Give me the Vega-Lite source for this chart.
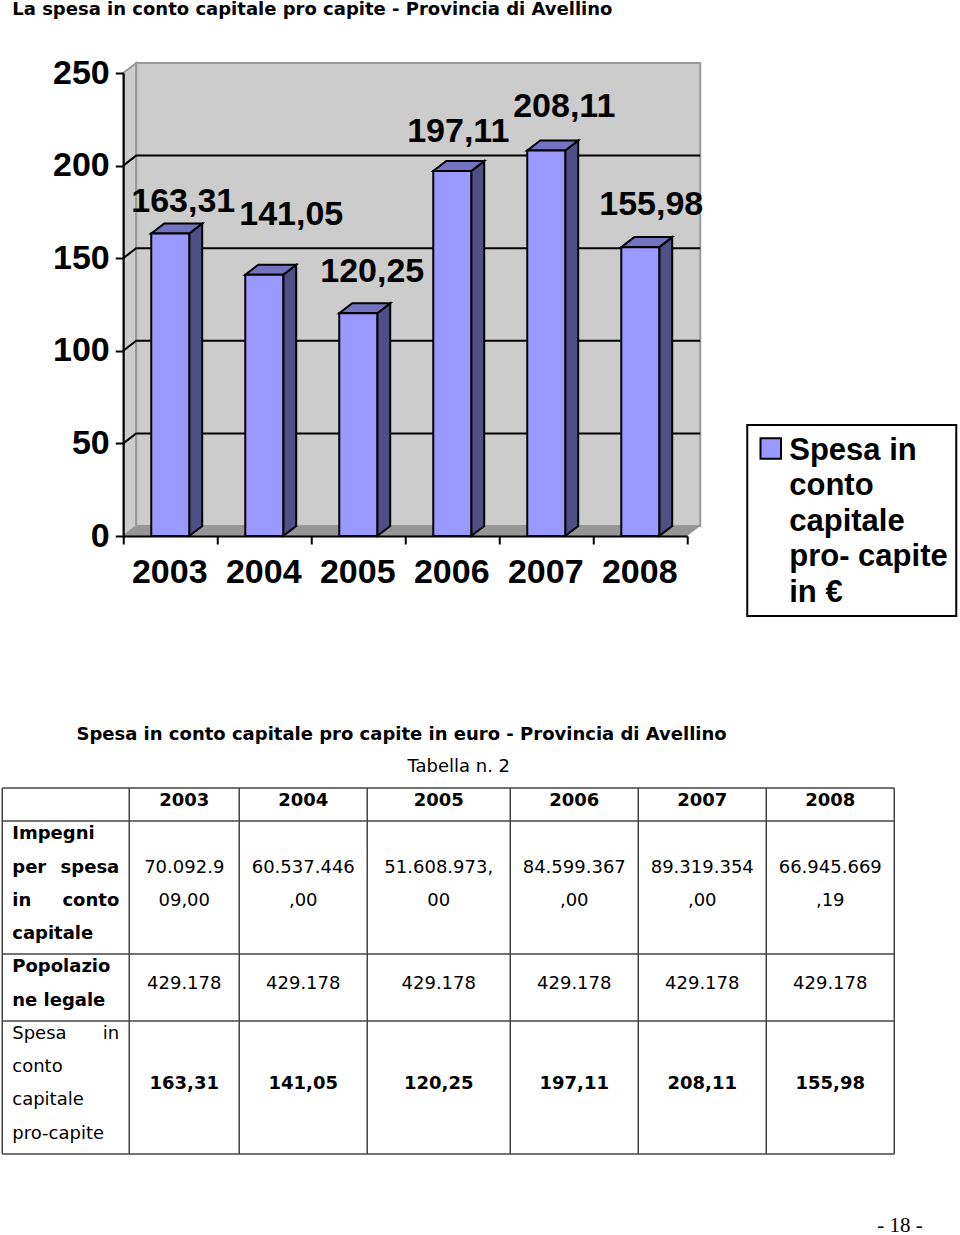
{
"$schema":"https://vega.github.io/schema/vega-lite/v6.json",
"background":"white",
"padding":{"left":1.25,"top":1,"right":0,"bottom":0},
"spacing":131,
"config":{"view":{"stroke":null},"text":{"font":"DejaVu Sans"},"legend":{"strokeWidth":2},"style":{"guide-label":{"lineHeight":35.4}}},
"datasets":{
"bars":[
{"year":2003,"value":163.31,"label":"163,31","serie":"Spesa in conto capitale pro- capite in €"},
{"year":2004,"value":141.05,"label":"141,05","serie":"Spesa in conto capitale pro- capite in €"},
{"year":2005,"value":120.25,"label":"120,25","serie":"Spesa in conto capitale pro- capite in €"},
{"year":2006,"value":197.11,"label":"197,11","serie":"Spesa in conto capitale pro- capite in €"},
{"year":2007,"value":208.11,"label":"208,11","serie":"Spesa in conto capitale pro- capite in €"},
{"year":2008,"value":155.98,"label":"155,98","serie":"Spesa in conto capitale pro- capite in €"}],
"cells":[
{"col":1.5,"line":0,"text":"2003","bold":true},{"col":2.5,"line":0,"text":"2004","bold":true},{"col":3.5,"line":0,"text":"2005","bold":true},{"col":4.5,"line":0,"text":"2006","bold":true},{"col":5.5,"line":0,"text":"2007","bold":true},{"col":6.5,"line":0,"text":"2008","bold":true},
{"col":1.5,"line":2,"text":"70.092.9","bold":false},{"col":1.5,"line":3,"text":"09,00","bold":false},
{"col":2.5,"line":2,"text":"60.537.446","bold":false},{"col":2.5,"line":3,"text":",00","bold":false},
{"col":3.5,"line":2,"text":"51.608.973,","bold":false},{"col":3.5,"line":3,"text":"00","bold":false},
{"col":4.5,"line":2,"text":"84.599.367","bold":false},{"col":4.5,"line":3,"text":",00","bold":false},
{"col":5.5,"line":2,"text":"89.319.354","bold":false},{"col":5.5,"line":3,"text":",00","bold":false},
{"col":6.5,"line":2,"text":"66.945.669","bold":false},{"col":6.5,"line":3,"text":",19","bold":false},
{"col":1.5,"line":5.5,"text":"429.178","bold":false},{"col":2.5,"line":5.5,"text":"429.178","bold":false},{"col":3.5,"line":5.5,"text":"429.178","bold":false},{"col":4.5,"line":5.5,"text":"429.178","bold":false},{"col":5.5,"line":5.5,"text":"429.178","bold":false},{"col":6.5,"line":5.5,"text":"429.178","bold":false},
{"col":1.5,"line":8.5,"text":"163,31","bold":true},{"col":2.5,"line":8.5,"text":"141,05","bold":true},{"col":3.5,"line":8.5,"text":"120,25","bold":true},{"col":4.5,"line":8.5,"text":"197,11","bold":true},{"col":5.5,"line":8.5,"text":"208,11","bold":true},{"col":6.5,"line":8.5,"text":"155,98","bold":true},
{"col":3.24,"line":-1.99,"text":"Spesa in conto capitale pro capite in euro - Provincia di Avellino","bold":true},
{"col":3.64,"line":-1.02,"text":"Tabella n. 2","bold":false}],
"stubLeft":[
{"line":1,"text":"Impegni","bold":true},{"line":2,"text":"per","bold":true},{"line":3,"text":"in","bold":true},{"line":4,"text":"capitale","bold":true},{"line":5,"text":"Popolazio","bold":true},{"line":6,"text":"ne legale","bold":true},
{"line":7,"text":"Spesa","bold":false},{"line":8,"text":"conto","bold":false},{"line":9,"text":"capitale","bold":false},{"line":10,"text":"pro-capite","bold":false}],
"stubRight":[
{"line":2,"text":"spesa","bold":true},{"line":3,"text":"conto","bold":true},{"line":7,"text":"in","bold":false}]
},
"vconcat":[
{
"width":564,"height":463,
"title":{"text":"La spesa in conto capitale pro capite - Provincia di Avellino","anchor":"start","frame":"group","dx":-111,"font":"DejaVu Sans","fontWeight":"bold","fontSize":18,"color":"#000000","offset":37,"baseline":"top"},
"layer":[
{"data":{"values":[{"x":2003,"lo":0,"hi":250},{"x":2003.138,"lo":5.4,"hi":255.4}]},
 "mark":{"type":"area","fill":"#cccccc","stroke":"#999999","strokeWidth":2},
 "encoding":{
  "x":{"field":"x","type":"quantitative","scale":{"domain":[2003,2009],"nice":false,"zero":false},
   "axis":{"title":null,"values":[2003,2004,2005,2006,2007,2008,2009],"format":"d","labelExpr":"datum.value<2009?datum.label:''","labelOffset":46,"labelFont":"Liberation Sans","labelFontWeight":"bold","labelFontSize":34,"labelColor":"#000000","labelPadding":11,"tickSize":8,"tickWidth":2,"tickColor":"#000000","domainColor":"#000000","domainWidth":2,"grid":false,"zindex":1,"labelFlush":false,"labelOverlap":false}},
  "y":{"field":"lo","type":"quantitative","scale":{"domain":[0,250],"nice":false,"zero":false},
   "axis":{"title":null,"values":[0,50,100,150,200,250],"labelFont":"Liberation Sans","labelFontWeight":"bold","labelFontSize":34,"labelColor":"#000000","labelPadding":6,"tickSize":8,"tickWidth":2,"tickColor":"#000000","domainColor":"#000000","domainWidth":2,"grid":false,"zindex":1}},
  "y2":{"field":"hi"}}},
{"data":{"values":[{"x":2003.138,"x2":2009.138,"lo":5.4,"hi":255.4}]},
 "mark":{"type":"rect","fill":"#cccccc","stroke":"#999999","strokeWidth":2},
 "encoding":{"x":{"field":"x","type":"quantitative"},"x2":{"field":"x2"},"y":{"field":"lo","type":"quantitative"},"y2":{"field":"hi"}}},
{"data":{"values":[{"x":2003,"lo":0,"hi":0},{"x":2003.138,"lo":0,"hi":5.4},{"x":2009,"lo":0,"hi":5.4},{"x":2009.138,"lo":5.4,"hi":5.4}]},
 "mark":{"type":"area","fill":"#969696"},
 "encoding":{"x":{"field":"x","type":"quantitative"},"y":{"field":"lo","type":"quantitative"},"y2":{"field":"hi"}}},
{"data":{"values":[{"v":50},{"v":100},{"v":150},{"v":200}]},
 "transform":[{"calculate":"[2003,2003.138,2009.138]","as":"xs"},{"calculate":"[datum.v,datum.v+5.4,datum.v+5.4]","as":"ys"},{"flatten":["xs","ys"]}],
 "mark":{"type":"line","color":"#000000","strokeWidth":2},
 "encoding":{"x":{"field":"xs","type":"quantitative"},"y":{"field":"ys","type":"quantitative"},"detail":{"field":"v"}}},
{"data":{"name":"bars"},
 "transform":[{"calculate":"[datum.year+0.702,datum.year+0.84]","as":"xs"},{"calculate":"[0,5.4]","as":"los"},{"calculate":"[datum.value,datum.value+5.4]","as":"his"},{"flatten":["xs","los","his"]}],
 "mark":{"type":"area","fill":"#4f4f85","stroke":"#000000","strokeWidth":2},
 "encoding":{"x":{"field":"xs","type":"quantitative"},"y":{"field":"los","type":"quantitative"},"y2":{"field":"his"},"detail":{"field":"year"}}},
{"data":{"name":"bars"},
 "transform":[{"calculate":"[datum.year+0.298,datum.year+0.436,datum.year+0.702,datum.year+0.84]","as":"xs"},{"calculate":"[datum.value,datum.value,datum.value,datum.value+5.4]","as":"los"},{"calculate":"[datum.value,datum.value+5.4,datum.value+5.4,datum.value+5.4]","as":"his"},{"flatten":["xs","los","his"]}],
 "mark":{"type":"area","fill":"#7373bf","stroke":"#000000","strokeWidth":2},
 "encoding":{"x":{"field":"xs","type":"quantitative"},"y":{"field":"los","type":"quantitative"},"y2":{"field":"his"},"detail":{"field":"year"}}},
{"data":{"name":"bars"},
 "transform":[{"calculate":"datum.year+0.298","as":"x0"},{"calculate":"datum.year+0.702","as":"x1"}],
 "mark":{"type":"rect","stroke":"#000000","strokeWidth":2,"opacity":1},
 "encoding":{"x":{"field":"x0","type":"quantitative"},"x2":{"field":"x1"},"y":{"field":"value","type":"quantitative"},"y2":{"datum":0},
  "color":{"field":"serie","type":"nominal","scale":{"range":["#9999ff"]},
   "legend":{"title":null,"orient":"none","legendX":624,"legendY":352,"padding":8,"strokeColor":"#000000","fillColor":"#ffffff","symbolType":"square","symbolSize":420,"symbolStrokeColor":"#000000","symbolStrokeWidth":2,"symbolFillColor":"#9999ff","symbolOffset":0,"labelOffset":3,"labelFont":"Liberation Sans","labelFontWeight":"bold","labelFontSize":31,"labelColor":"#000000","labelLimit":400,"labelBaseline":"top",
    "labelExpr":"['Spesa in','conto','capitale','pro- capite','in €']",
    "encoding":{"legend":{"strokeWidth":{"value":2}},"labels":{"dy":{"value":-12.5}}},
    "encode":{"legend":{"strokeWidth":{"value":2}},"labels":{"dy":{"value":-12.5}}}}}}},
{"data":{"name":"bars"},"transform":[{"filter":"datum.year==2003"},{"calculate":"datum.year+0.5","as":"c"}],"mark":{"type":"text","font":"Liberation Sans","fontWeight":"bold","fontSize":34,"color":"#000000","baseline":"middle","dx":13,"dy":-32},"encoding":{"x":{"field":"c","type":"quantitative"},"y":{"field":"value","type":"quantitative"},"text":{"field":"label"}}},
{"data":{"name":"bars"},"transform":[{"filter":"datum.year==2004"},{"calculate":"datum.year+0.5","as":"c"}],"mark":{"type":"text","font":"Liberation Sans","fontWeight":"bold","fontSize":34,"color":"#000000","baseline":"middle","dx":27,"dy":-60},"encoding":{"x":{"field":"c","type":"quantitative"},"y":{"field":"value","type":"quantitative"},"text":{"field":"label"}}},
{"data":{"name":"bars"},"transform":[{"filter":"datum.year==2005"},{"calculate":"datum.year+0.5","as":"c"}],"mark":{"type":"text","font":"Liberation Sans","fontWeight":"bold","fontSize":34,"color":"#000000","baseline":"middle","dx":14,"dy":-41},"encoding":{"x":{"field":"c","type":"quantitative"},"y":{"field":"value","type":"quantitative"},"text":{"field":"label"}}},
{"data":{"name":"bars"},"transform":[{"filter":"datum.year==2006"},{"calculate":"datum.year+0.5","as":"c"}],"mark":{"type":"text","font":"Liberation Sans","fontWeight":"bold","fontSize":34,"color":"#000000","baseline":"middle","dx":6,"dy":-39},"encoding":{"x":{"field":"c","type":"quantitative"},"y":{"field":"value","type":"quantitative"},"text":{"field":"label"}}},
{"data":{"name":"bars"},"transform":[{"filter":"datum.year==2007"},{"calculate":"datum.year+0.5","as":"c"}],"mark":{"type":"text","font":"Liberation Sans","fontWeight":"bold","fontSize":34,"color":"#000000","baseline":"middle","dx":18,"dy":-44},"encoding":{"x":{"field":"c","type":"quantitative"},"y":{"field":"value","type":"quantitative"},"text":{"field":"label"}}},
{"data":{"name":"bars"},"transform":[{"filter":"datum.year==2008"},{"calculate":"datum.year+0.5","as":"c"}],"mark":{"type":"text","font":"Liberation Sans","fontWeight":"bold","fontSize":34,"color":"#000000","baseline":"middle","dx":11,"dy":-42},"encoding":{"x":{"field":"c","type":"quantitative"},"y":{"field":"value","type":"quantitative"},"text":{"field":"label"}}}
]
},
{
"width":835,"height":515,
"layer":[
{"data":{"values":[{"edge":0},{"edge":1},{"edge":2},{"edge":3},{"edge":4},{"edge":5},{"edge":6},{"edge":7}]},
 "mark":{"type":"rule","color":"#444444","strokeWidth":1.5},
 "encoding":{"x":{"field":"edge","type":"quantitative","axis":null,"scale":{"domain":[0,1,2,3,4,5,6,7,8],"range":[-121,6,116,244,387,515,643,771,835]}},
  "y":{"datum":-0.33,"type":"quantitative","axis":null,"scale":{"domain":[-2.3745,13.105],"reverse":true,"nice":false,"zero":false}},"y2":{"datum":10.67}}},
{"data":{"values":[{"edge":-0.33},{"edge":0.66},{"edge":4.66},{"edge":6.67},{"edge":10.67}]},
 "mark":{"type":"rule","color":"#444444","strokeWidth":1.5},
 "encoding":{"y":{"field":"edge","type":"quantitative","axis":null},"x":{"datum":0,"type":"quantitative","axis":null},"x2":{"datum":7}}},
{"data":{"name":"cells"},"transform":[{"filter":"datum.bold"}],
 "mark":{"type":"text","font":"DejaVu Sans","fontWeight":"bold","fontSize":18,"color":"#000000","baseline":"middle","dy":2},
 "encoding":{"x":{"field":"col","type":"quantitative","axis":null},"y":{"field":"line","type":"quantitative","axis":null},"text":{"field":"text"}}},
{"data":{"name":"cells"},"transform":[{"filter":"!datum.bold"}],
 "mark":{"type":"text","font":"DejaVu Sans","fontSize":18,"color":"#000000","baseline":"middle","dy":2},
 "encoding":{"x":{"field":"col","type":"quantitative","axis":null},"y":{"field":"line","type":"quantitative","axis":null},"text":{"field":"text"}}},
{"data":{"name":"stubLeft"},"transform":[{"filter":"datum.bold"}],
 "mark":{"type":"text","font":"DejaVu Sans","fontWeight":"bold","fontSize":18,"color":"#000000","baseline":"middle","align":"left","dx":10,"dy":2},
 "encoding":{"x":{"datum":0,"type":"quantitative","axis":null},"y":{"field":"line","type":"quantitative","axis":null},"text":{"field":"text"}}},
{"data":{"name":"stubLeft"},"transform":[{"filter":"!datum.bold"}],
 "mark":{"type":"text","font":"DejaVu Sans","fontSize":18,"color":"#000000","baseline":"middle","align":"left","dx":10,"dy":2},
 "encoding":{"x":{"datum":0,"type":"quantitative","axis":null},"y":{"field":"line","type":"quantitative","axis":null},"text":{"field":"text"}}},
{"data":{"name":"stubRight"},"transform":[{"filter":"datum.bold"}],
 "mark":{"type":"text","font":"DejaVu Sans","fontWeight":"bold","fontSize":18,"color":"#000000","baseline":"middle","align":"right","dx":-10,"dy":2},
 "encoding":{"x":{"datum":1,"type":"quantitative","axis":null},"y":{"field":"line","type":"quantitative","axis":null},"text":{"field":"text"}}},
{"data":{"name":"stubRight"},"transform":[{"filter":"!datum.bold"}],
 "mark":{"type":"text","font":"DejaVu Sans","fontSize":18,"color":"#000000","baseline":"middle","align":"right","dx":-10,"dy":2},
 "encoding":{"x":{"datum":1,"type":"quantitative","axis":null},"y":{"field":"line","type":"quantitative","axis":null},"text":{"field":"text"}}},
{"data":{"values":[{"col":7.09,"line":12.8,"text":"- 18 -"}]},
 "mark":{"type":"text","font":"Liberation Serif","fontSize":21,"color":"#000000","baseline":"middle","dy":1},
 "encoding":{"x":{"field":"col","type":"quantitative","axis":null},"y":{"field":"line","type":"quantitative","axis":null},"text":{"field":"text"}}}
]
}
]
}
